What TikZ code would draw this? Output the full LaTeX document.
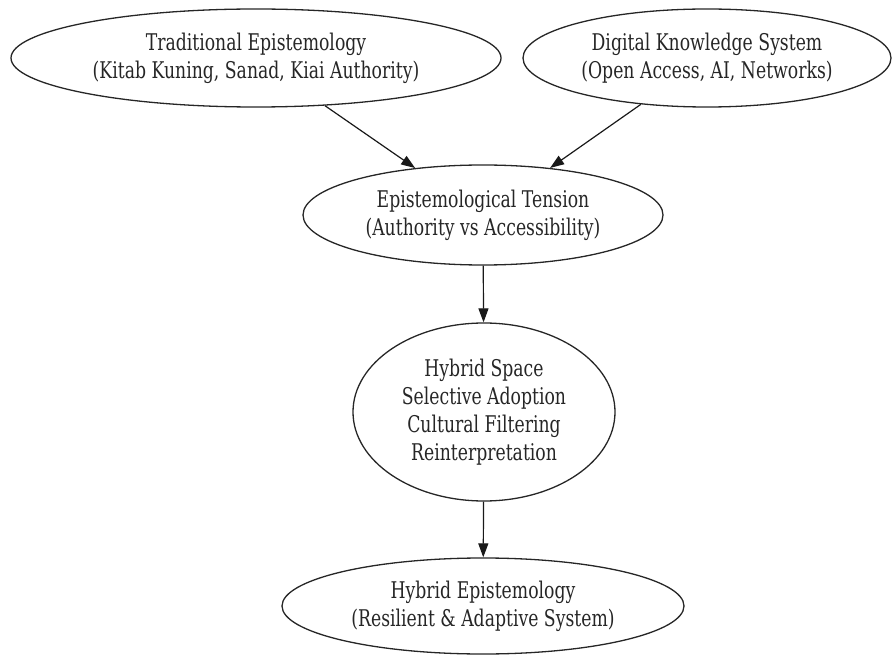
\documentclass[tikz,border=0pt]{standalone}
\usepackage{fontspec}
\setmainfont{DejaVu Serif}[FakeStretch=0.75]
\usetikzlibrary{shapes.geometric,arrows.meta}
\begin{document}
\begin{tikzpicture}[x=1pt,y=-1pt,
  ell/.style={ellipse,draw=black!85,line width=1.3pt,inner sep=0pt,align=center,
    text=black!85,font=\fontsize{23}{28}\selectfont},
  conn/.style={line width=1.2pt,draw=black!90,-{Triangle[length=14pt,width=10pt]}}]
\useasboundingbox (0,0) rectangle (892,655);
\node[ell,minimum width=490pt,minimum height=98pt] (trad) at (256,58)
  {Traditional Epistemology\\(Kitab Kuning, Sanad, Kiai Authority)};
\node[ell,minimum width=368pt,minimum height=98pt] (dig) at (707,58)
  {Digital Knowledge System\\(Open Access, AI, Networks)};
\node[ell,minimum width=360pt,minimum height=100pt] (ten) at (483,215)
  {Epistemological Tension\\(Authority vs Accessibility)};
\node[ell,minimum width=262pt,minimum height=178pt] (hyb) at (484,412)
  {Hybrid Space\\Selective Adoption\\Cultural Filtering\\Reinterpretation};
\node[ell,minimum width=402pt,minimum height=96pt] (res) at (483,606)
  {Hybrid Epistemology\\(Resilient \& Adaptive System)};
\draw[conn] (trad) -- (ten);
\draw[conn] (dig) -- (ten);
\draw[conn] (ten) -- (hyb);
\draw[conn] (hyb) -- (res);
\end{tikzpicture}
\end{document}
